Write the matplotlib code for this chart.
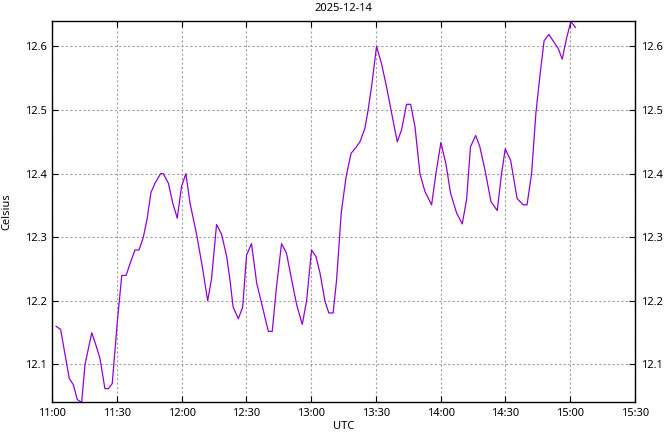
import pandas as pd
import matplotlib
matplotlib.use("Agg")
import matplotlib.pyplot as plt
import matplotlib.dates as mdates

DAY = "2025-12-14"
START = "2025-12-14 11:00"

# minutes after 11:00 UTC
minutes = [
    1.9, 4.0, 8.0, 9.9, 11.7, 13.7, 15.3, 18.4, 19.9, 22.2,
    24.5, 26.1, 27.9, 30.2, 32.3, 34.3, 36.3, 38.4, 40.3, 42.3,
    44.1, 45.8, 47.7, 50.3, 51.5, 53.9, 55.9, 58.0, 60.0, 62.0,
    63.9, 67.0, 69.6, 72.1, 73.9, 76.2, 78.5, 80.9, 82.4, 83.9,
    86.3, 88.3, 90.1, 92.4, 94.8, 97.5, 100.2, 102.0, 104.0, 106.3,
    108.6, 111.0, 113.3, 115.9, 117.9, 120.2, 122.2, 124.1, 126.4, 128.2,
    130.2, 131.8, 134.0, 136.2, 138.5, 140.5, 142.6, 144.9, 146.4, 148.0,
    150.3, 152.6, 154.9, 157.3, 159.9, 161.9, 164.2, 166.1, 168.1, 170.4,
    172.7, 175.8, 177.8, 180.1, 182.4, 184.6, 187.4, 190.0, 192.0, 193.8,
    196.2, 198.1, 200.5, 203.3, 206.2, 208.2, 209.9, 212.4, 215.4, 218.2,
    220.0, 222.1, 224.1, 225.9, 227.9, 230.1, 232.4, 234.4, 236.3, 238.3,
    240.3, 242.4,
]

celsius = [
    12.160, 12.155, 12.078, 12.068, 12.045, 12.040, 12.100, 12.150, 12.135, 12.110,
    12.062, 12.062, 12.070, 12.165, 12.240, 12.240, 12.260, 12.280, 12.280, 12.300,
    12.330, 12.370, 12.385, 12.400, 12.400, 12.385, 12.354, 12.330, 12.380, 12.400,
    12.354, 12.304, 12.254, 12.200, 12.235, 12.320, 12.305, 12.270, 12.233, 12.190,
    12.172, 12.190, 12.272, 12.290, 12.228, 12.190, 12.152, 12.152, 12.223, 12.290,
    12.275, 12.233, 12.194, 12.163, 12.200, 12.280, 12.270, 12.244, 12.200, 12.181,
    12.181, 12.233, 12.340, 12.395, 12.432, 12.440, 12.450, 12.471, 12.500, 12.537,
    12.600, 12.573, 12.537, 12.495, 12.450, 12.469, 12.509, 12.509, 12.474, 12.400,
    12.372, 12.351, 12.400, 12.449, 12.416, 12.369, 12.338, 12.321, 12.359, 12.442,
    12.460, 12.443, 12.406, 12.356, 12.342, 12.400, 12.439, 12.421, 12.361, 12.351,
    12.351, 12.400, 12.495, 12.552, 12.609, 12.619, 12.607, 12.597, 12.580, 12.613,
    12.639, 12.630,
]

y_ticks = [12.1, 12.2, 12.3, 12.4, 12.5, 12.6]

times = pd.Timestamp(START) + pd.to_timedelta(minutes, unit="min")

plt.rcParams["font.family"] = "Noto Sans"
plt.rcParams["font.size"] = 8

fig = plt.figure(figsize=(6.64, 4.32), dpi=100)
left, bottom, width, height = 52 / 664, 30 / 432, 583 / 664, 381 / 432
ax = fig.add_axes([left, bottom, width, height])

ax.plot(times, celsius, color="#9400d3", linewidth=0.9)

ax.set_xlim(pd.Timestamp(START), pd.Timestamp("2025-12-14 15:30"))
ax.set_ylim(12.041, 12.64)
ax.xaxis.set_major_locator(mdates.MinuteLocator(byminute=[0, 30]))
ax.xaxis.set_major_formatter(mdates.DateFormatter("%H:%M"))
ax.set_yticks(y_ticks)
ax.set_yticklabels([f"{v:.1f}" for v in y_ticks])

ax.tick_params(direction="in", length=4, width=0.8, top=True, right=True,
               labelright=True, labelsize=8, colors="black", pad=4)
ax.grid(True, color="#a0a0a0", linestyle=(0, (2, 2)), linewidth=0.8)
for s in ax.spines.values():
    s.set_linewidth(1.0)

ax.set_xlabel("UTC", fontsize=8, labelpad=1.5)
ax.set_ylabel("Celsius", fontsize=8, labelpad=9)
fig.text(left + width / 2, 1 - 3 / 432, DAY, ha="center", va="top", fontsize=8)

fig.savefig("out.png", dpi=100)
plt.close(fig)
